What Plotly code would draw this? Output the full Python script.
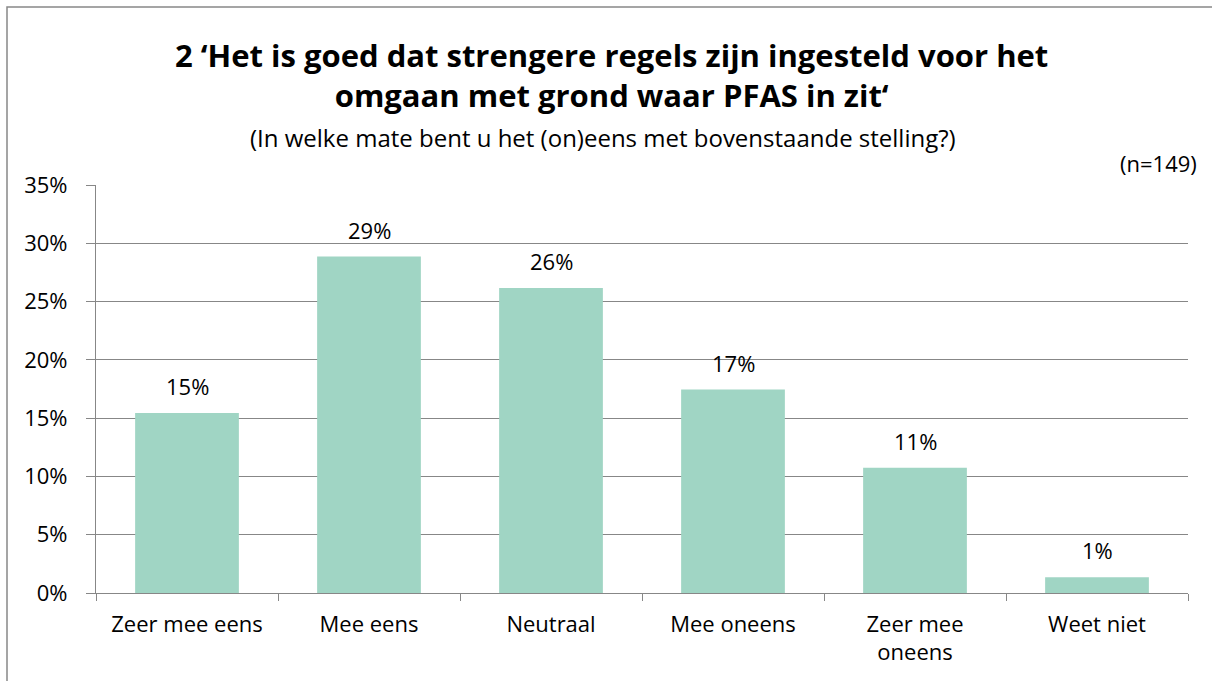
import plotly.graph_objects as go

categories = ["Zeer mee eens", "Mee eens", "Neutraal", "Mee oneens", "Zeer mee<br>oneens", "Weet niet"]
counts = [23, 43, 39, 26, 16, 2]
n_total = 149
values = [c / n_total for c in counts]
labels = [f"{round(v*100)}%" for v in values]

font = "'Open Sans', sans-serif"
W, H = 1212, 681
L, R, T, B = 96, 1188, 185, 593  # plot area in pixels


def px(x):
    return (x - L) / (R - L)


def py(y):
    return (B - y) / (B - T)


fig = go.Figure(go.Bar(
    x=categories, y=values,
    marker=dict(color="#A0D5C4", line=dict(width=0)),
    width=0.57, hoverinfo="skip",
))

for c, v, t in zip(categories, values, labels):
    fig.add_annotation(
        x=c, y=v, text=t, showarrow=False, yanchor="bottom", yshift=10,
        font=dict(size=22, family=font, color="#000000"),
    )

fig.update_layout(
    width=W, height=H,
    paper_bgcolor="white", plot_bgcolor="white",
    margin=dict(l=L, r=W - R, t=T, b=H - B, autoexpand=False),
    showlegend=False,
    font=dict(family=font, size=22, color="#000000"),
)
fig.update_yaxes(
    range=[0, 0.35], dtick=0.05, tickformat=".0%",
    showgrid=True, gridcolor="#878787", gridwidth=1.2,
    showline=True, linecolor="#878787", linewidth=1.2,
    ticks="outside", ticklen=9, tickcolor="#878787", tickwidth=1.2,
    tickfont=dict(size=22, family=font), zeroline=False, ticklabelstandoff=14,
)
fig.update_xaxes(
    showline=True, linecolor="#878787", linewidth=1.2,
    ticks="outside", ticklen=7, tickcolor="#878787", tickwidth=1.2, tickson="boundaries",
    tickfont=dict(size=22, family=font), showgrid=False, ticklabelstandoff=11,
)
fig.add_annotation(
    text="<b>2 ‘Het is goed dat strengere regels zijn ingesteld voor het<br>omgaan met grond waar PFAS in zit‘</b>",
    xref="paper", yref="paper", x=px(611), y=py(75),
    xanchor="center", yanchor="middle", showarrow=False,
    font=dict(size=31, family=font, color="#000000"), align="center",
)
fig.add_annotation(
    text="(In welke mate bent u het (on)eens met bovenstaande stelling?)",
    xref="paper", yref="paper", x=px(603), y=py(137),
    xanchor="center", yanchor="middle", showarrow=False,
    font=dict(size=24, family=font, color="#000000"),
)
fig.add_annotation(
    text=f"(n={n_total})",
    xref="paper", yref="paper", x=px(1199), y=py(163),
    xanchor="right", yanchor="middle", showarrow=False,
    font=dict(size=22, family=font, color="#000000"),
)
fig.add_shape(
    type="rect", xref="paper", yref="paper",
    x0=px(7), x1=px(1230), y0=py(700), y1=py(7),
    line=dict(color="#888888", width=1.5), fillcolor="rgba(0,0,0,0)", layer="below",
)
fig.write_html("out.html", config={"displayModeBar": False},
               post_script="document.body.style.margin='0';")
